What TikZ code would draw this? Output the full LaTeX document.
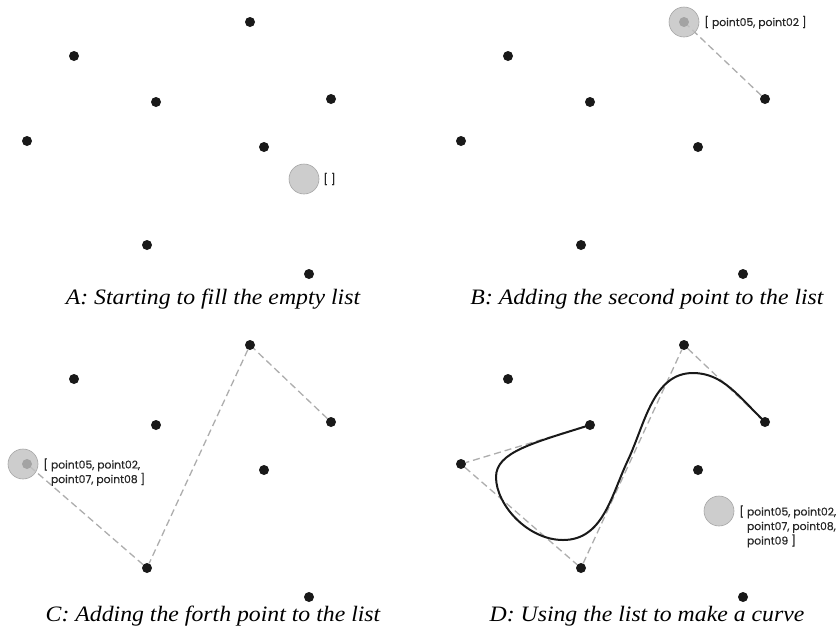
\documentclass[tikz,border=0pt]{standalone}
\usepackage{xcolor}
\usepackage{fontspec}
\setmainfont{Liberation Serif}
\newfontfamily\listfont[FakeBold=0.5]{Poppins}
\usetikzlibrary{positioning}
\definecolor{guidegray}{HTML}{ADADAD}
\definecolor{cursorgray}{HTML}{C2C2C2}
\tikzset{
  bez point/.style={circle, fill=black!90, inner sep=0pt, minimum size=10pt},
  bez cursor/.style={circle, fill=cursorgray, fill opacity=0.82, draw=black!35, line width=0.6pt, inner sep=0pt, minimum size=30pt},
  bez guide/.style={draw=guidegray, line width=1.3pt, dash pattern=on 7pt off 4pt},
  bez curve/.style={draw=black!90, line width=2pt},
  bez list/.style={font=\listfont\fontsize{10.8}{14.5}\selectfont, text=black!85, align=left, inner sep=0pt},
  bez caption/.style={font=\itshape\addfontfeature{FakeStretch=1.08}\fontsize{22}{26}\selectfont, anchor=base}
}

\begin{document}
\begin{tikzpicture}[x=1pt, y=-1pt]
    \useasboundingbox (0,0) rectangle (837,630);
    % same points in all four panels
    \foreach \p/\dx/\dy/\cy/\txt in {a/0/0/304/A: Starting to fill the empty list,
        b/434/0/304/B: Adding the second point to the list,
        c/0/323/298.5/C: Adding the forth point to the list,
        d/434/323/298.5/D: Using the list to make a curve}
    {
    \begin{scope}[shift={(\dx,\dy)}, name prefix=\p-]
        \node [bez point] (point02) at (250,22) {};
        \node [bez point] (point01) at (74,56) {};
        \node [bez point] (point09) at (156,102) {};
        \node [bez point] (point05) at (331,99) {};
        \node [bez point] (point08) at (27,141) {};
        \node [bez point] (point03) at (264,147) {};
        \node [bez point] (point07) at (147,245) {};
        \node [bez point] (point04) at (309,274) {};
        \node [bez caption] (caption) at (213,\cy) {\txt};
    \end{scope}
    }

    % A: empty list
    \begin{scope}[name prefix=a-]
        \node [bez cursor] (cursor) at (304,179) {};
        \node [bez list, right=4pt of cursor, anchor=base west, yshift=-4pt] (list) {[ ]};
    \end{scope}

    % B: two points
    \begin{scope}[shift={(434,0)}, name prefix=b-]
        \draw [bez guide] (point05) -- (point02);
        \node [bez cursor] (cursor) at (point02) {};
        \node [bez list, right=5pt of cursor, anchor=base west, yshift=-4pt] (list) {[ point05, point02 ]};
    \end{scope}

    % C: four points
    \begin{scope}[shift={(0,323)}, name prefix=c-]
        \draw [bez guide] (point05) -- (point02) -- (point07) -- (point08);
        \node [bez cursor] (cursor) at ([xshift=-4pt]point08.center) {};
        \node [bez list, right=5pt of cursor, anchor=base west, yshift=-19pt] (list)
            {[ point05, point02,\\ \hphantom{[\ }point07, point08 ]};
    \end{scope}

    % D: the curve
    \begin{scope}[shift={(434,323)}, name prefix=d-]
        \draw [bez guide] (point09) -- (point08) -- (point07) -- (point02) -- (point05);
        \draw [bez curve] (point09.center) .. controls (99,120) and (62,129) .. (62,154)
            .. controls (62,182) and (94,217) .. (129,217)
            .. controls (169,217) and (177,173) .. (194,137)
            .. controls (211,101) and (219,50) .. (259,50)
            .. controls (289,50) and (305,74) .. (point05.center);
        \node [bez cursor] (cursor) at (285,188) {};
        \node [bez list, right=5pt of cursor, anchor=base west, yshift=-33.5pt] (list)
            {[ point05, point02,\\ \hphantom{[\ }point07, point08,\\ \hphantom{[\ }point09 ]};
    \end{scope}
\end{tikzpicture}
\end{document}
